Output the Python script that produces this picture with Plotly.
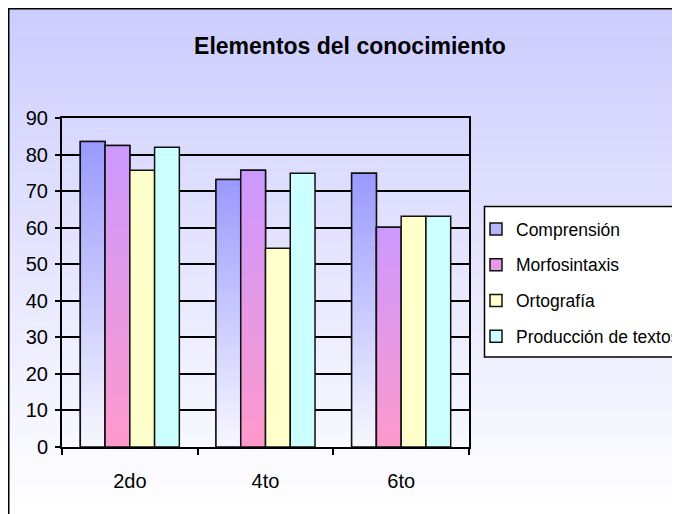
import plotly.graph_objects as go

categories = ["2do", "4to", "6to"]
series_names = ["Comprensión", "Morfosintaxis", "Ortografía", "Producción de textos"]
comprension = [83.6, 73.2, 74.9]
morfosintaxis = [82.5, 75.7, 60.1]
ortografia = [75.7, 54.4, 63.1]
produccion = [82.0, 74.9, 63.1]
y_ticks = [0, 10, 20, 30, 40, 50, 60, 70, 80, 90]

# page shows the figure offset by the 8px body margin; coordinates below are figure pixels
W, H = 672, 506
FONT = "Liberation Sans, Arial, sans-serif"

def px(x):
    return x / W

def py(y):
    return 1 - y / H

def hex2rgb(h):
    h = h.lstrip("#")
    return tuple(int(h[i:i + 2], 16) for i in (0, 2, 4))

def mix(c1, c2, t):
    a, b = hex2rgb(c1), hex2rgb(c2)
    return "rgb(%d,%d,%d)" % tuple(round(a[i] + (b[i] - a[i]) * t) for i in range(3))

# style: (top colour, bottom colour, legend colour)
styles = [
    ("#9999ff", "#f8f8ff", "#b4b4ff"),
    ("#cc99ff", "#ff99cc", "#e699e6"),
    ("#ffffcc", "#ffffcc", "#ffffcc"),
    ("#ccffff", "#ccffff", "#ccffff"),
]
values = [comprension, morfosintaxis, ortografia, produccion]

BW = 0.1825
offsets = [-2 * BW, -BW, 0, BW]
N = 40

fig = go.Figure()
for i, (name, vals) in enumerate(zip(series_names, values)):
    top, bot, leg = styles[i]
    fig.add_trace(go.Bar(
        x=categories, y=vals, name=name, width=BW, offset=offsets[i],
        marker=dict(color=leg if top != bot else top, line=dict(color="#111111", width=1.5)),
        legendgroup=name, showlegend=True, hoverinfo="skip",
    ))
    if top != bot:
        for k in range(N):
            frac = (k + 0.5) / N
            f0 = k / N
            f1 = min((k + 1.6) / N, 1.0)
            fig.add_trace(go.Bar(
                x=categories, y=[v * (f1 - f0) for v in vals], base=[v * f0 for v in vals],
                width=BW, offset=offsets[i],
                marker=dict(color=mix(bot, top, frac), line=dict(width=0)),
                showlegend=False, hoverinfo="skip", legendgroup=name,
            ))
        fig.add_trace(go.Bar(
            x=categories, y=vals, width=BW, offset=offsets[i],
            marker=dict(color="rgba(0,0,0,0)", line=dict(color="#111111", width=1.5)),
            showlegend=False, hoverinfo="skip", legendgroup=name,
        ))

shapes = []
top_y, bot_y = 0, H
NS = 80
for s in range(NS):
    y0 = top_y + (bot_y - top_y) * s / NS
    y1 = top_y + (bot_y - top_y) * (s + 1) / NS + 0.5
    t = (s + 0.5) / NS
    shapes.append(dict(type="rect", xref="paper", yref="paper",
                       x0=px(0), x1=px(W + 5), y0=py(y0), y1=py(y1),
                       fillcolor=mix("#ccccff", "#ffffff", t), line=dict(width=0),
                       layer="below"))
shapes.append(dict(type="line", xref="paper", yref="paper", x0=px(0.75), x1=px(0.75),
                   y0=py(0), y1=py(H + 5), line=dict(color="black", width=1.5), layer="below"))
shapes.append(dict(type="line", xref="paper", yref="paper", x0=px(0), x1=px(W + 5),
                   y0=py(0.75), y1=py(0.75), line=dict(color="black", width=1.5), layer="below"))
shapes.append(dict(type="rect", xref="paper", yref="paper", x0=px(476.5), x1=px(W + 20),
                   y0=py(198.5), y1=py(349), fillcolor="white",
                   line=dict(color="black", width=1.5), layer="above"))

fig.update_layout(
    width=W, height=H,
    margin=dict(l=0, r=0, t=0, b=0, autoexpand=False),
    paper_bgcolor="white", plot_bgcolor="white",
    barmode="overlay",
    font=dict(family=FONT, size=20, color="black"),
    title=dict(text="<b>Elementos del conocimiento</b>", x=px(342), xanchor="center",
               y=py(38), yanchor="middle", font=dict(family=FONT, size=23, color="black")),
    shapes=shapes,
    showlegend=True,
    legend=dict(x=px(468), xanchor="left", y=py(203), yanchor="top",
                bgcolor="rgba(0,0,0,0)", borderwidth=0, itemwidth=30,
                tracegroupgap=10, font=dict(family=FONT, size=17.5, color="black"),
                itemclick=False, itemdoubleclick=False),
    xaxis=dict(domain=[px(54), px(461)], type="category", range=[-0.5, 2.5],
               showline=True, linecolor="black", linewidth=2, mirror=True,
               ticks="outside", tickson="boundaries", ticklen=6, tickwidth=1.5,
               tickcolor="black", showgrid=False, ticklabelstandoff=15, automargin=False,
               tickfont=dict(family=FONT, size=20)),
    yaxis=dict(domain=[py(439), py(110)], range=[0, 90], tickvals=y_ticks,
               showline=True, linecolor="black", linewidth=2, mirror=True,
               ticks="outside", ticklen=5, tickwidth=1.5, tickcolor="black",
               showgrid=True, gridcolor="black", gridwidth=1.5, zeroline=False,
               ticklabelstandoff=3, automargin=False, tickfont=dict(family=FONT, size=20)),
)

fig.write_html("out.html")
